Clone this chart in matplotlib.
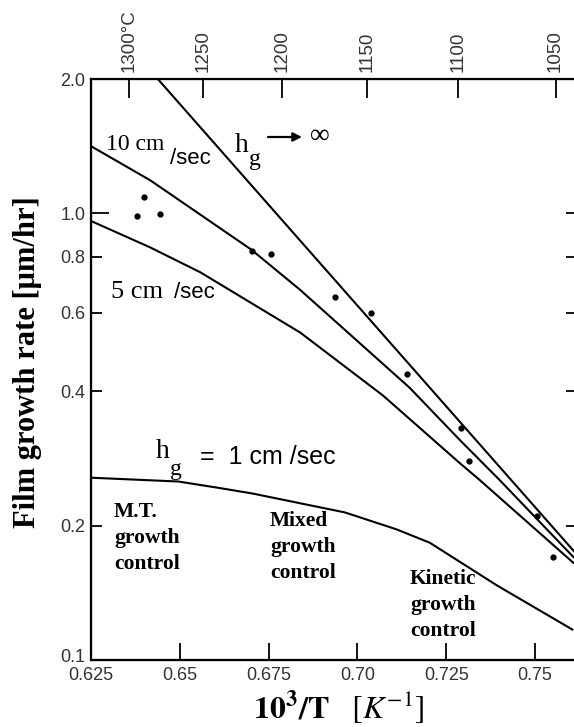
import numpy as np
import matplotlib
matplotlib.use("Agg")
from matplotlib import pyplot as plt
from matplotlib import transforms

plt.rcParams['mathtext.fontset'] = 'stix'

# curves (x = 1000/T, y = growth rate um/hr)
inf_x = [0.6438, 0.6840, 0.7610]
inf_y = [2.0, 0.867, 0.175]

cm10_x = [0.6251, 0.6417, 0.6701, 0.6838, 0.7147, 0.7288, 0.7400, 0.7608]
cm10_y = [1.413, 1.186, 0.830, 0.675, 0.407, 0.311, 0.253, 0.170]

cm5_x = [0.6251, 0.6417, 0.6558, 0.6839, 0.7072, 0.7288, 0.7344, 0.7608]
cm5_y = [0.961, 0.839, 0.738, 0.541, 0.391, 0.276, 0.253, 0.165]

cm1_x = [0.6249, 0.6496, 0.6608, 0.6704, 0.6965, 0.7111, 0.7204, 0.7392, 0.7605]
cm1_y = [0.256, 0.251, 0.243, 0.236, 0.214, 0.196, 0.183, 0.147, 0.117]

pts_x = [0.6379, 0.6399, 0.6444, 0.6702, 0.6758, 0.6938, 0.7037, 0.7140,
         0.7292, 0.7315, 0.7506, 0.7551]
pts_y = [0.985, 1.086, 0.995, 0.822, 0.813, 0.651, 0.597, 0.438,
         0.330, 0.279, 0.210, 0.170]

xticks = [0.625, 0.65, 0.675, 0.70, 0.725, 0.75]
xlabels = ['0.625', '0.65', '0.675', '0.70', '0.725', '0.75']
yticks = [0.1, 0.2, 0.4, 0.6, 0.8, 1.0, 2.0]
ylabels = ['0.1', '0.2', '0.4', '0.6', '0.8', '1.0', '2.0']
temps = [1300, 1250, 1200, 1150, 1100, 1050]
temp_labels = ['1300°C', '1250', '1200', '1150', '1100', '1050']

W, H = 574, 727
fig = plt.figure(figsize=(W / 100, H / 100), dpi=100)
ax = fig.add_axes([91 / W, 1 - 660 / H, 486 / W, 581 / H])

ax.plot(inf_x, inf_y, color='black', lw=1.5)
ax.plot(cm10_x, cm10_y, color='black', lw=1.5)
ax.plot(cm5_x, cm5_y, color='black', lw=1.5)
ax.plot(cm1_x, cm1_y, color='black', lw=1.5)
ax.plot(pts_x, pts_y, 'o', color='black', ms=3.5)

ax.set_yscale('log')
ax.set_xlim(0.625, 0.7618)
ax.set_ylim(0.1, 2.0)
ax.set_yticks(yticks)
ax.set_yticklabels(ylabels)
ax.minorticks_off()
ax.set_xticks(xticks)
ax.set_xticklabels(xlabels)
ax.tick_params(axis='x', direction='in', length=12, width=1.3, pad=5,
               labelsize=13, labelcolor='#333333')
ax.tick_params(axis='y', direction='in', length=8, width=1.3, pad=4,
               labelsize=13, labelcolor='#333333', right=True)
for lab in ax.get_xticklabels() + ax.get_yticklabels():
    lab.set_family('Liberation Sans')
# the 1.0 tick is drawn longer in the original
ax.yaxis.get_major_ticks()[5].tick1line.set_markersize(13)
# lift the 0.1 label a little, as in the original
lab01 = ax.get_yticklabels()[0]
lab01.set_transform(lab01.get_transform() +
                    transforms.ScaledTranslation(0, 5 / 100, fig.dpi_scale_trans))
for s in ax.spines.values():
    s.set_linewidth(1.6)

top = ax.twiny()
top.set_xlim(ax.get_xlim())
top.set_xticks([1000 / (t + 273.15) for t in temps])
top.set_xticklabels(temp_labels, rotation=90, family='Liberation Sans')
top.tick_params(axis='x', direction='in', length=14, width=1.3, pad=5,
                labelsize=13.5, labelcolor='#333333')
top.minorticks_off()


def ftxt(px, py, s, **kw):
    fig.text(px / W, 1 - py / H, s, **kw)


serif = 'Liberation Serif'
sans = 'Liberation Sans'

# 10 cm/sec
ftxt(106, 144, '10 cm', family=serif, fontsize=17, va='center')
ftxt(170, 158, '/sec', family=sans, fontsize=16, va='center')

# h_g -> infinity
ftxt(235, 146, 'h', family=serif, fontsize=20, va='center')
ftxt(249, 159, 'g', family=serif, fontsize=17, va='center')
ax.annotate('', xy=(302 / W, 1 - 137 / H), xytext=(268 / W, 1 - 137 / H),
            xycoords='figure fraction', textcoords='figure fraction',
            arrowprops=dict(arrowstyle='-|>', lw=1.6, color='black',
                            mutation_scale=13, shrinkA=0, shrinkB=0))
ftxt(310, 136, '∞', family=[serif, 'DejaVu Serif'], fontsize=20, va='center')

# 5 cm /sec
ftxt(111, 292, '5 cm', family=serif, fontsize=19, va='center')
ftxt(174, 292, '/sec', family=sans, fontsize=16, va='center')

# h_g = 1 cm /sec
ftxt(156, 452, 'h', family=serif, fontsize=20, va='center')
ftxt(170, 469, 'g', family=serif, fontsize=17, va='center')
ftxt(200, 457, '=  1 cm /sec', family=sans, fontsize=18, va='center')

ftxt(114, 538, 'M.T.\ngrowth\ncontrol', family=serif, fontsize=15.5,
     fontweight='bold', va='center', linespacing=1.4)
ftxt(270, 547, 'Mixed\ngrowth\ncontrol', family=serif, fontsize=15.5,
     fontweight='bold', va='center', linespacing=1.4)
ftxt(410, 605, 'Kinetic\ngrowth\ncontrol', family=serif, fontsize=15.5,
     fontweight='bold', va='center', linespacing=1.4)

ftxt(28, 362, 'Film growth rate [μm/hr]', family=serif, fontsize=22,
     fontweight='bold', rotation=90, ha='center', va='center')
ftxt(339, 707, r'$\mathbf{10^3/T}\ \ \ [K^{-1}]$', fontsize=23,
     ha='center', va='center')

fig.savefig('out.png', dpi=100)
